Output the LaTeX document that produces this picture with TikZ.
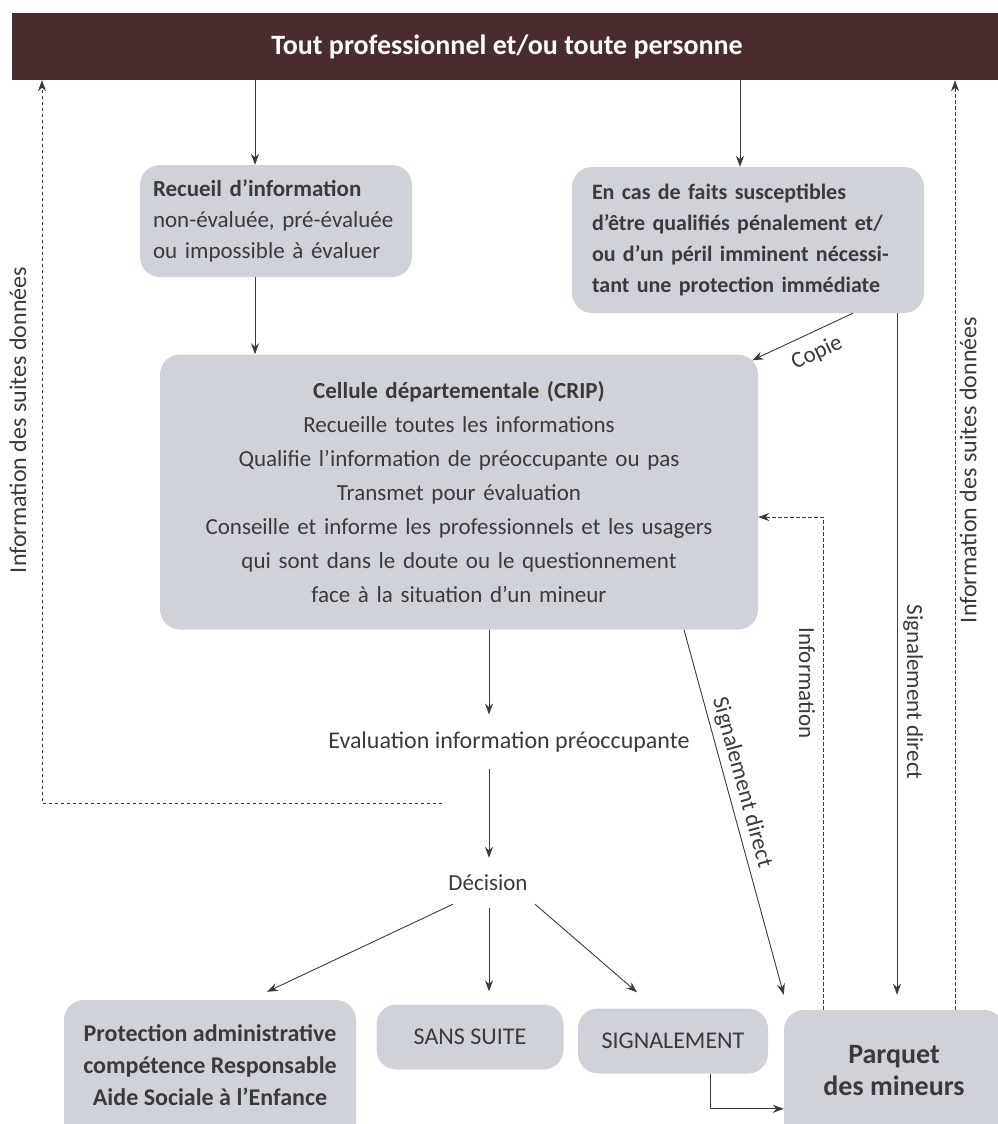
\documentclass[tikz,border=0pt]{standalone}
\usepackage{fontspec}
\setmainfont{Carlito}
\usetikzlibrary{arrows.meta,calc}
\definecolor{barc}{HTML}{4B2C2E}
\definecolor{boxg}{HTML}{CFD3D9}
\definecolor{ink}{HTML}{3A3A3A}
\newcommand{\fsz}[2]{\fontsize{#1}{#2}\selectfont}
\begin{document}
\begin{tikzpicture}[x=1pt,y=-1pt,
  box/.style={fill=boxg, rounded corners=20pt, text=ink, inner sep=0pt},
  tip/.style={-{Stealth[length=11pt,width=8pt]}},
  arr/.style={draw=ink, line width=0.9pt, tip},
  dsh/.style={draw=ink, line width=0.8pt, dash pattern=on 3.5pt off 2.5pt, tip},
  lbl/.style={text=ink, inner sep=0pt}]
\useasboundingbox (0,0) rectangle (998,1124);
\clip (0,0) rectangle (998,1124);

% top bar
\node[fill=barc, minimum width=990pt, minimum height=67pt, inner sep=0pt,
      text=white, font=\fsz{28}{30}\bfseries] (bar) at (507,46.5)
  {Tout professionnel et/ou toute personne};

% boxes
\node[box, minimum width=272pt, minimum height=112pt, text width=246pt,
      align=left, font=\fsz{23}{31}] (recueil) at (276,221)
  {\textbf{Recueil d'information}\\non-évaluée, pré-évaluée\\ou impossible à évaluer};

\node[box, minimum width=352pt, minimum height=146pt, text width=312pt,
      align=left, font=\fsz{22}{31}\bfseries] (encas) at (748,240)
  {En cas de faits susceptibles\\d'être qualifiés pénalement et/\\ou d'un péril imminent nécessi-\\tant une protection immédiate};

\node[box, minimum width=598pt, minimum height=275pt, text width=580pt,
      align=center, font=\fsz{23}{34}] (crip) at (459,492)
  {\textbf{Cellule départementale (CRIP)}\\Recueille toutes les informations\\Qualifie l'information de préoccupante ou pas\\Transmet pour évaluation\\Conseille et informe les professionnels et les usagers\\qui sont dans le doute ou le questionnement\\face à la situation d'un mineur};

\node[lbl, inner ysep=17pt, font=\fsz{24}{26}] (eval) at (509,742)
  {Evaluation information préoccupante};
\node[lbl, inner ysep=17pt, font=\fsz{23}{26}] (dec) at (488,883) {Décision};

\node[box, minimum width=292pt, minimum height=150pt,
      font=\fsz{24}{32}\bfseries] (prot) at (210,1075)
  {\parbox{280pt}{\centering Protection administrative\\compétence Responsable\\Aide Sociale à l'Enfance\par\vspace*{20pt}}};

\node[box, minimum width=187pt, minimum height=65pt, font=\fsz{24}{26}] (sans) at (470,1037) {SANS SUITE};
\node[box, minimum width=190pt, minimum height=65pt, font=\fsz{24}{26}] (sig) at (673,1041) {SIGNALEMENT};

\node[box, minimum width=220pt, minimum height=140pt, font=\fsz{28}{32}\bfseries] (parquet) at (894,1080)
  {\parbox{200pt}{\centering Parquet\\des mineurs\par\vspace*{18pt}}};

% helper coordinates
\coordinate (xa) at (255,0);
\coordinate (xb) at (740,0);
\coordinate (xc) at (853,0);
\coordinate (xd) at (897,0);
\coordinate (xe) at (489,0);
\coordinate (xf) at (684,0);
\coordinate (xg) at (823,0);
\coordinate (xh) at (955,0);
\coordinate (xi) at (42,0);
\coordinate (xj) at (710,0);
\coordinate (xk) at (267,0);
\coordinate (xl) at (637,0);
\coordinate (yi) at (0,517);
\coordinate (dl) at (442,803);

% connectors
\draw[arr] (bar.south -| xa) -- (recueil.north -| xa);
\draw[arr] (bar.south -| xb) -- (encas.north -| xb);
\draw[arr] (recueil.south -| xa) -- (crip.north -| xa);
\draw[arr] (encas.south -| xc) -- ($(crip.north east)+(-6,6)$);
\draw[arr] (encas.south -| xd) -- ($(parquet.north -| xd)+(0,-15)$);
\draw[arr] (crip.south -| xe) -- (eval.north -| xe);
\draw[arr] (eval.south -| xe) -- (dec.north -| xe);
\draw[arr] ($(dec.south)+(-35,-4)$) -- ($(prot.north -| xk)+(0,-8)$);
\draw[arr] (dec.south -| xe) -- ($(sans.north -| xe)+(0,-13)$);
\draw[arr] ($(dec.south)+(47,-4)$) -- ($(sig.north -| xl)+(0,-16)$);
\draw[arr] (crip.south -| xf) -- node[lbl, sloped, above, pos=0.43, inner sep=5pt, font=\fsz{23}{26}] (lsd) {Signalement direct} ($(parquet.north west)+(0,-15)$);
\draw[arr] (sig.south -| xj) |- ($(parquet.north west)+(0,99)$);

\draw[dsh] (parquet.north -| xg) |- (crip.east |- yi);
\draw[dsh] (parquet.north -| xh) -- (bar.south -| xh);
\draw[dsh] (dl) -| (bar.south -| xi);

% labels
\node[lbl, rotate=25, font=\fsz{23}{26}] (lcopie) at (817,353) {Copie};
\node[lbl, rotate=-90, font=\fsz{23}{26}] (linfo) at (807,683) {Information};
\node[lbl, rotate=-90, font=\fsz{23}{26}] (lsd2) at (913,692) {Signalement direct};
\node[lbl, rotate=90, font=\fsz{24}{26}] (lleft) at (18,420) {Information des suites données};
\node[lbl, rotate=90, font=\fsz{24}{26}] (lright) at (968,470) {Information des suites données};
\end{tikzpicture}
\end{document}
